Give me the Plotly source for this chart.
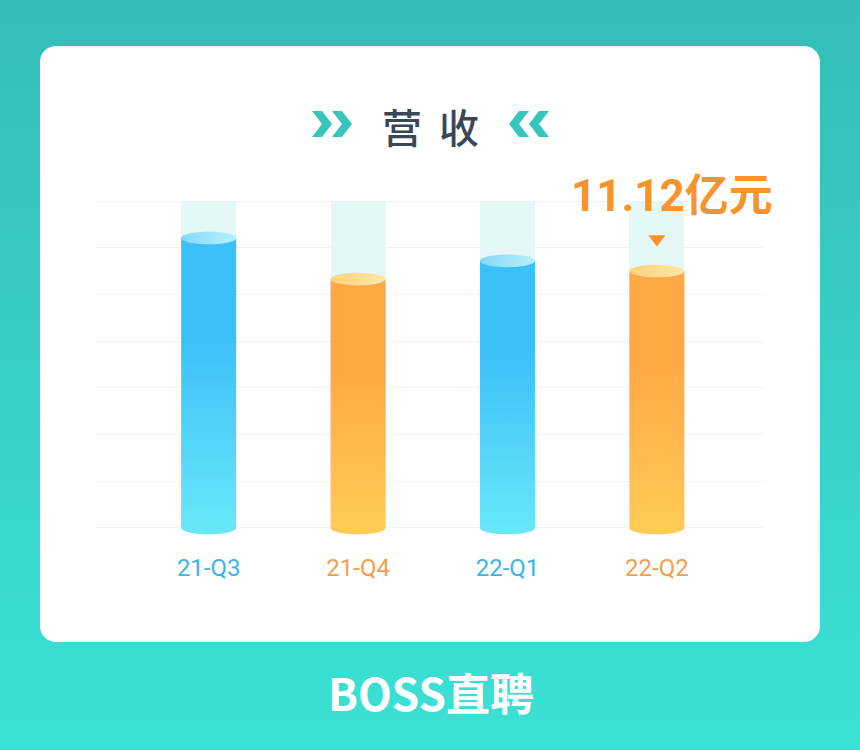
import numpy as np
import plotly.graph_objects as go

# ---------------- data ----------------
quarters = ["21-Q3", "21-Q4", "22-Q1", "22-Q2"]
revenue = [12.55, 10.77, 11.56, 11.12]          # 亿元 (only 22-Q2 printed)
highlight_label = "11.12亿元"
title_chars = ["营", "收"]
brand_text = "BOSS直聘"

label_colors = ["#3db4ea", "#f2a04c", "#3db4ea", "#f2a04c"]
body_bottom = ["#69e8f9", "#ffcc56", "#69e8f9", "#ffcc56"]
body_top = ["#3cc0f8", "#ffa846", "#3cc0f8", "#ffa846"]
cap_left = ["#86d8f8", "#ffd27e", "#86d8f8", "#ffd27e"]
cap_right = ["#b6f1fd", "#ffe7a6", "#b6f1fd", "#ffe7a6"]

# ---------------- geometry helpers ----------------
W, H = 860, 750
GRID_MAX = 14.15           # top gridline value
N_GRID = 7
Y_RANGE = [-0.5, 14.4]
X_RANGE = [-0.7475, 3.717]
Y_DOMAIN = [0.2806, 0.7397]
X_DOMAIN = [97 / W, 764 / W]

px_per_x = (X_DOMAIN[1] - X_DOMAIN[0]) * W / (X_RANGE[1] - X_RANGE[0])
px_per_y = (Y_DOMAIN[1] - Y_DOMAIN[0]) * H / (Y_RANGE[1] - Y_RANGE[0])

half_w = 27.5 / px_per_x   # half bar width in x units
ry = 6.3 / px_per_y        # ellipse vertical radius in y units

fig = go.Figure()

# ---------- background (pixel axes x/y) ----------
fig.add_trace(go.Scatter(
    x=[0, W, W, 0, 0], y=[0, 0, H, H, 0], mode="none", fill="toself",
    fillgradient=dict(type="vertical",
                      colorscale=[[0, "#3be1d6"], [1, "#34bdb8"]]),
    hoverinfo="skip", showlegend=False, xaxis="x", yaxis="y"))

# rounded white card
def rounded_rect(x0, y0, x1, y1, r, n=12):
    xs, ys = [], []
    corners = [(x1 - r, y0 + r, -np.pi / 2, 0), (x1 - r, y1 - r, 0, np.pi / 2),
               (x0 + r, y1 - r, np.pi / 2, np.pi), (x0 + r, y0 + r, np.pi, 1.5 * np.pi)]
    for cx, cy, a0, a1 in corners:
        t = np.linspace(a0, a1, n)
        xs += list(cx + r * np.cos(t))
        ys += list(cy + r * np.sin(t))
    xs.append(xs[0]); ys.append(ys[0])
    return xs, ys

cx_, cy_ = rounded_rect(40, 46, 820, 642, 16)
fig.add_trace(go.Scatter(x=cx_, y=cy_, mode="none", fill="toself",
                         fillcolor="#ffffff", hoverinfo="skip",
                         showlegend=False, xaxis="x", yaxis="y"))

# ---------- chart (x2/y2) ----------
# faint background columns
fig.add_trace(go.Bar(
    x=list(range(len(quarters))), y=[GRID_MAX] * len(quarters),
    width=2 * half_w, marker=dict(color="#e5f7f7", line=dict(width=0)),
    hoverinfo="skip", showlegend=False, xaxis="x2", yaxis="y2"))

t_bot = np.linspace(np.pi, 2 * np.pi, 40)
t_full = np.linspace(0, 2 * np.pi, 80)
for i, v in enumerate(revenue):
    c = i
    xs = [c - half_w, c - half_w] + list(c + half_w * np.cos(t_bot)) + [c + half_w, c - half_w]
    ys = [v, 0] + list(ry * np.sin(t_bot)) + [v, v]
    fig.add_trace(go.Scatter(
        x=xs, y=ys, mode="none", fill="toself",
        fillgradient=dict(type="vertical", start=-ry, stop=v,
                          colorscale=[[0, body_bottom[i]], [0.66, body_top[i]],
                                      [1, body_top[i]]]),
        hoverinfo="skip", showlegend=False, xaxis="x2", yaxis="y2"))
    fig.add_trace(go.Scatter(
        x=list(c + half_w * np.cos(t_full)), y=list(v + ry * np.sin(t_full)),
        mode="none", fill="toself",
        fillgradient=dict(type="horizontal", start=c - half_w, stop=c + half_w,
                          colorscale=[[0, cap_left[i]], [1, cap_right[i]]]),
        hoverinfo="skip", showlegend=False, xaxis="x2", yaxis="y2"))

# marker triangle above the highlighted bar
hi = len(revenue) - 1
fig.add_trace(go.Scatter(
    x=[hi], y=[revenue[hi] + 32 / px_per_y], mode="markers",
    marker=dict(symbol="triangle-down", size=15, color="#f7952b"),
    hoverinfo="skip", showlegend=False, xaxis="x2", yaxis="y2"))

grid_vals = [GRID_MAX / N_GRID * k for k in range(N_GRID + 1)]
ticktext = [f"<span style='color:{col}'>{q}</span>" for q, col in zip(quarters, label_colors)]

# chevrons
def chevron(x0, y0, w, h, t, right=True):
    ym = y0 + h / 2
    if right:
        pts = [(x0, y0), (x0 + t, y0), (x0 + w, ym), (x0 + t, y0 + h), (x0, y0 + h), (x0 + w - t, ym)]
    else:
        x1 = x0 + w
        pts = [(x1, y0), (x1 - t, y0), (x0, ym), (x1 - t, y0 + h), (x1, y0 + h), (x0 + t, ym)]
    return "M " + " L ".join(f"{x:.1f},{y:.1f}" for x, y in pts) + " Z"

shapes = []
for x0, right in [(312, True), (332, True), (509, False), (529, False)]:
    shapes.append(dict(type="path", path=chevron(x0, 111, 20, 26, 10, right),
                       xref="x", yref="y", fillcolor="#36c6bc",
                       line=dict(width=0), layer="above"))

annotations = [
    dict(text=title_chars[0], x=401.5, y=126, xref="x", yref="y", showarrow=False,
         font=dict(family="Noto Sans CJK SC", size=40, color="#3a4758", weight=500),
         xanchor="center", yanchor="middle"),
    dict(text=title_chars[1], x=459, y=126, xref="x", yref="y", showarrow=False,
         font=dict(family="Noto Sans CJK SC", size=40, color="#3a4758", weight=500),
         xanchor="center", yanchor="middle"),
    dict(text=brand_text, x=431, y=692, xref="x", yref="y", showarrow=False,
         font=dict(family="Noto Sans CJK SC", size=44, color="#ffffff", weight="bold"),
         xanchor="center", yanchor="middle"),
    dict(text=highlight_label, x=hi, y=revenue[hi], xref="x2", yref="y2",
         showarrow=False, yshift=75, xshift=15,
         font=dict(family="Roboto, Noto Sans CJK SC", size=44, color="#f7952b",
                   weight="bold"),
         xanchor="center", yanchor="middle"),
]

fig.update_layout(
    width=W, height=H, margin=dict(l=0, r=0, t=0, b=0),
    paper_bgcolor="#38cfc6", plot_bgcolor="rgba(0,0,0,0)",
    showlegend=False, hovermode=False, bargap=0,
    shapes=shapes, annotations=annotations,
    xaxis=dict(domain=[0, 1], range=[0, W], visible=False, fixedrange=True),
    yaxis=dict(domain=[0, 1], range=[H, 0], visible=False, fixedrange=True),
    xaxis2=dict(domain=X_DOMAIN, range=X_RANGE, anchor="y2",
                tickvals=list(range(len(quarters))), ticktext=ticktext,
                showgrid=False, zeroline=False, showline=False, ticks="",
                ticklabelstandoff=11,
                tickfont=dict(family="Roboto", size=24), fixedrange=True),
    yaxis2=dict(domain=Y_DOMAIN, range=Y_RANGE, anchor="x2",
                tickvals=grid_vals, showticklabels=False, showgrid=True,
                gridcolor="#f1f3f4", gridwidth=1, zeroline=False,
                showline=False, ticks="", fixedrange=True),
)

fig.write_html("out.html", config={"displayModeBar": False},
               post_script="document.body.style.margin='0px';document.body.style.padding='0px';")
